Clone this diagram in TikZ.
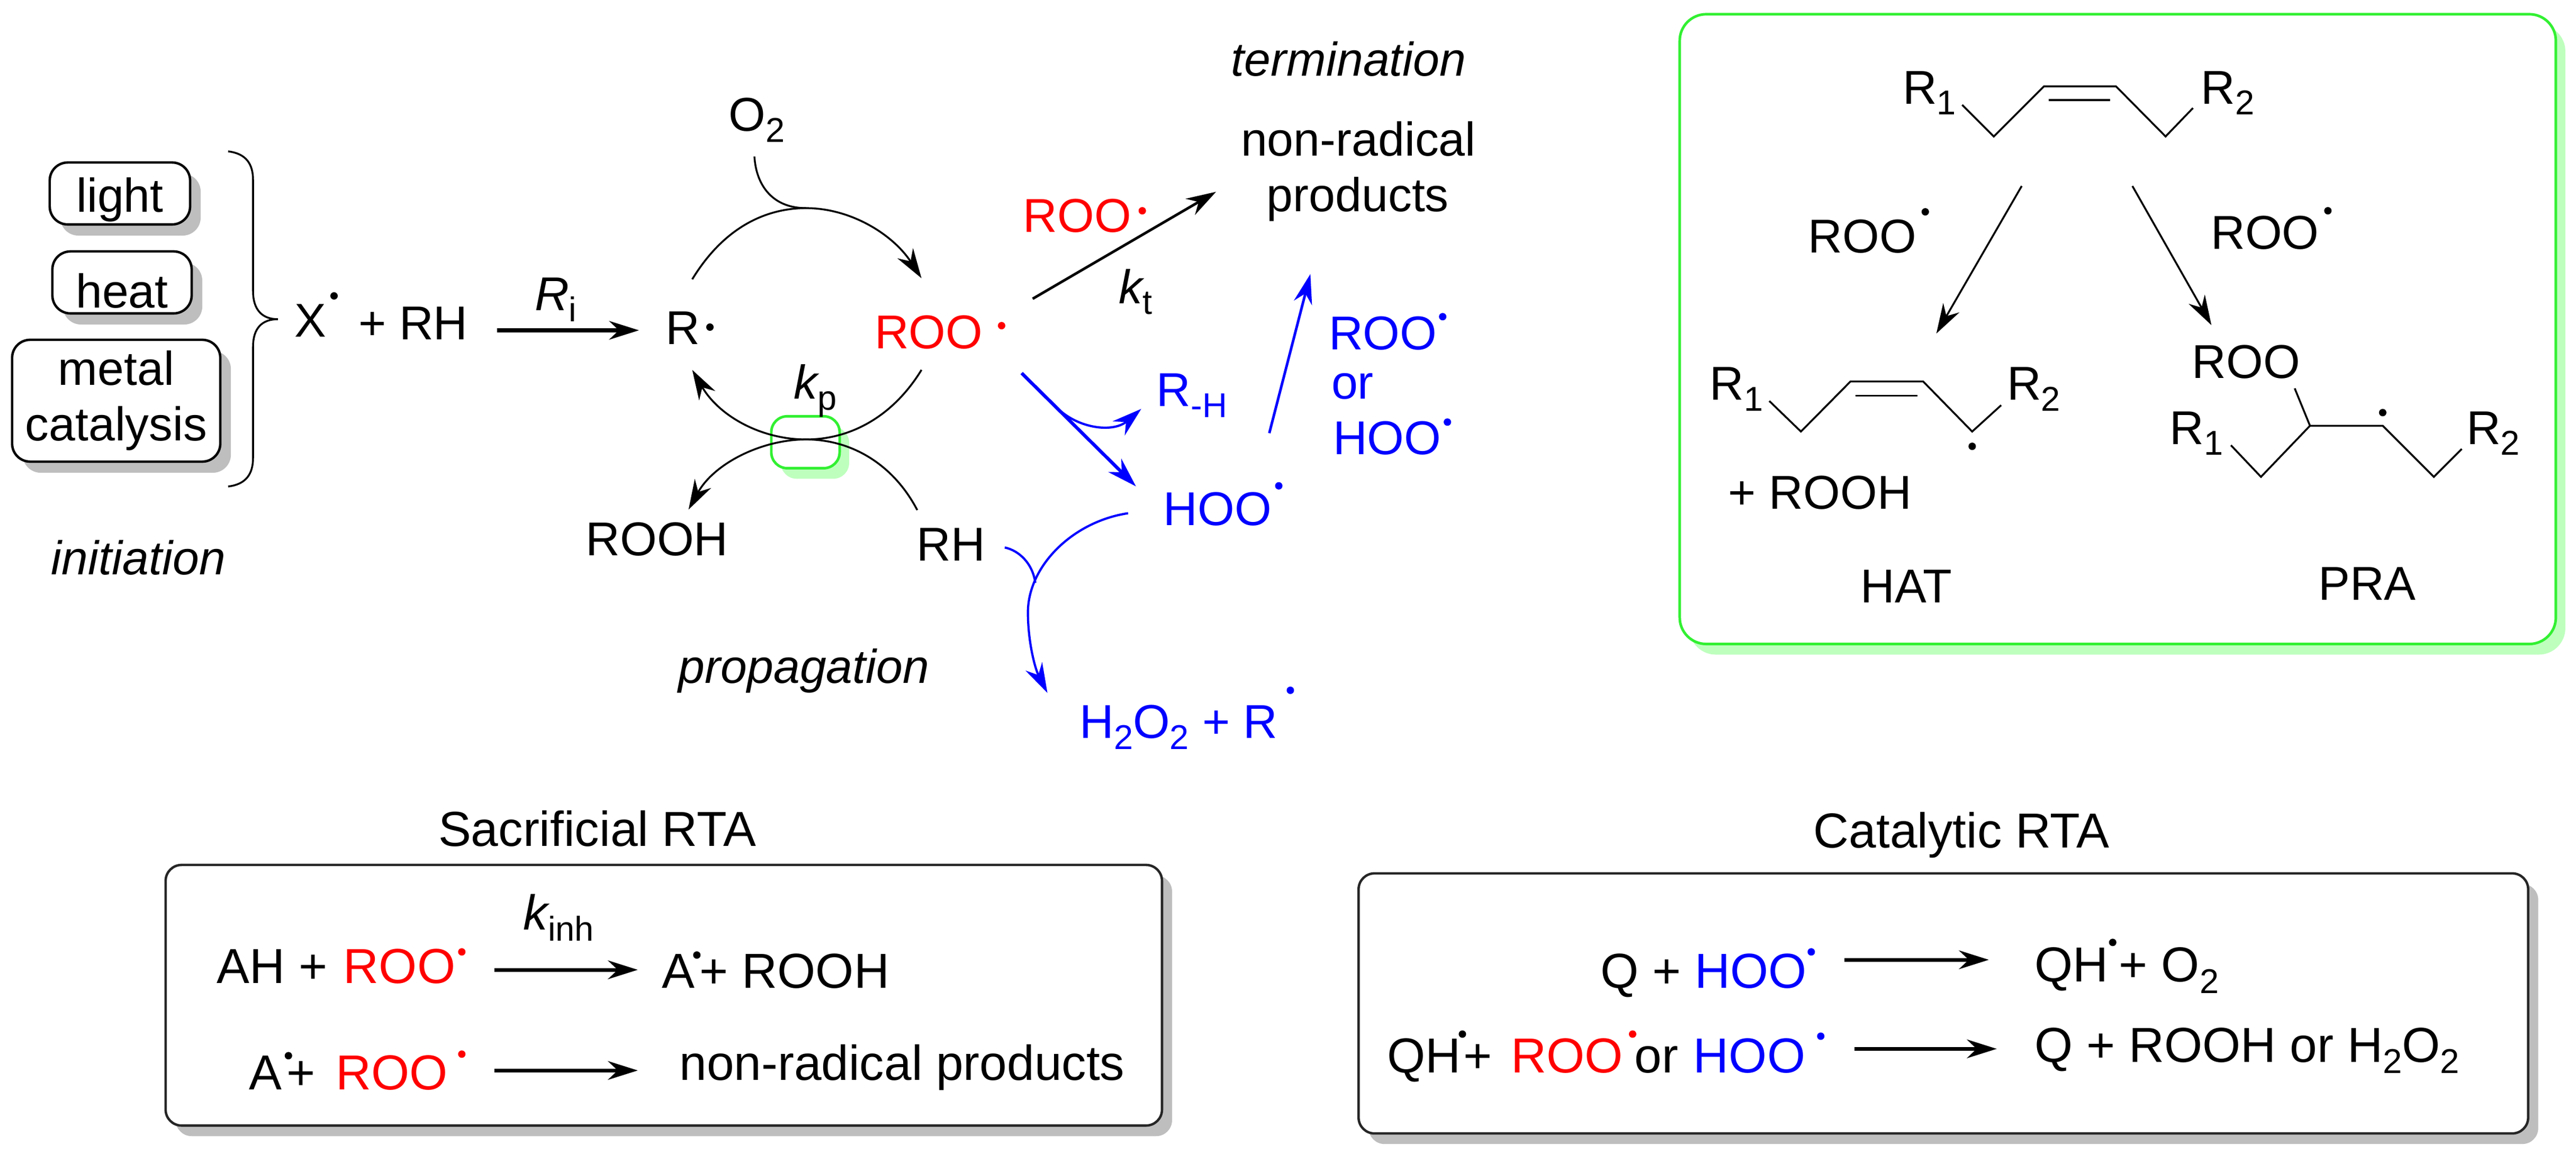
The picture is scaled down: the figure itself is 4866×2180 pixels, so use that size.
\documentclass[tikz,border=0pt]{standalone}
\usepackage{fontspec}
\setmainfont{Liberation Sans}
\usetikzlibrary{arrows.meta,shadows}
\definecolor{shadegray}{RGB}{190,190,190}
\definecolor{boxgreen}{RGB}{50,240,50}
\definecolor{shadegreen}{RGB}{190,255,190}
\definecolor{pureblue}{RGB}{0,0,255}
\definecolor{purered}{RGB}{255,0,0}
\newcommand{\sbs}[1]{\raisebox{-0.23em}{\fontsize{18.5}{18.5}\selectfont #1}}
\newcommand{\bl}[1]{\textcolor{pureblue}{#1}}
\newcommand{\rd}[1]{\textcolor{purered}{#1}}
\tikzset{
  txt/.style={inner sep=0pt,outer sep=0pt,anchor=base west,font=\fontsize{25.5}{30}\selectfont},
  ctxt/.style={txt,anchor=base},
  itxt/.style={txt,font=\fontsize{25.5}{30}\selectfont\itshape},
  btxt/.style={txt,font=\fontsize{26.4}{30}\selectfont},
  bctxt/.style={btxt,anchor=base},
  bitxt/.style={txt,font=\fontsize{26.4}{30}\selectfont\itshape},
  head/.style={-{Stealth[length=16pt,width=10pt]}},
  thinline/.style={line width=1pt},
  thinarrow/.style={head,line width=1pt},
  thickarrow/.style={head,line width=2pt},
  bluethin/.style={head,line width=1.2pt,draw=pureblue},
  bondline/.style={line width=1pt,line join=miter},
  srcbox/.style={draw=black,line width=1.3pt,fill=white,rounded corners=0.34cm,inner sep=0pt,
    outer sep=0pt,anchor=center,font=\fontsize{25.5}{30}\selectfont,
    general shadow={shadow xshift=0.2cm,shadow yshift=-0.21cm,fill=shadegray}},
  panelbox/.style={draw=black!85,line width=1.3pt,fill=white,rounded corners=0.3cm,inner sep=0pt,outer sep=0pt,
    general shadow={shadow xshift=0.19cm,shadow yshift=-0.2cm,fill=shadegray}},
  greenpanel/.style={draw=boxgreen,line width=1.4pt,fill=white,inner sep=0pt,outer sep=0pt,
    general shadow={shadow xshift=0.18cm,shadow yshift=-0.2cm,fill=shadegreen}},
  radical/.style={radius=0.07cm}
}
\begin{document}
\begin{tikzpicture}[x=0.01cm,y=-0.01cm]
\useasboundingbox (0,0) rectangle (4866,2180);

% initiation sources
\node[srcbox,minimum width=2.65cm,minimum height=1.17cm,text height=0.8cm,text depth=0.1cm] (light) at (226.5,365.5) {light};
\node[srcbox,minimum width=2.63cm,minimum height=1.17cm,text height=0.96cm,text depth=0cm] (heat) at (230.5,533.5) {heat};
\node[srcbox,minimum width=3.93cm,minimum height=2.3cm,align=center] (metal) at (219.5,757) {metal\\[-0.2pt]catalysis};
\draw[thinline] (431,286) .. controls (465,290) and (478,310) .. (478,340) -- (478,550)
  .. controls (478,585) and (495,603) .. (525,603) .. controls (495,603) and (478,620) .. (478,655)
  -- (478,865) .. controls (478,895) and (465,915) .. (431,919);
\node[itxt] (initiation) at (97,1086) {initiation};

% first line
\node[txt] (xrad) at (556,637) {X};
\fill[radical] (631,559) circle;
\node[txt] (plusrh) at (677,642) {+ RH};
\coordinate (riA) at (939,624); \coordinate (riB) at (1207,624);
\draw[thickarrow] (riA) -- (riB);
\node[itxt] (ri) at (1010,587) {R\sbs{\normalfont i}};
\node[txt] (rrad) at (1257,651) {R};
\fill[radical] (1341,618) circle;

% green highlight, under the arcs
\begin{scope}[x=0.009954cm,y=-0.009954cm,xshift=0.046cm]
\node[greenpanel,rounded corners=0.3cm,minimum width=1.29cm,minimum height=0.98cm,anchor=north west] (kpbox) at (1459,790) {};

% cycle
\node[txt] (otwo) at (1378,249) {O\sbs{2}};
\node[txt] (roomain) at (1655,662) {\rd{ROO}};
\fill[purered,radical] (1896,618) circle;
\coordinate (cycA) at (1309,530); \coordinate (cycTop) at (1525,395); \coordinate (cycB) at (1744,528);
\coordinate (cycC) at (1744,702); \coordinate (cycMid) at (1525,834); \coordinate (cycD) at (1309,702);
\coordinate (rhA) at (1736,968); \coordinate (rhB) at (1302,967);
\coordinate (oA) at (1427,297);
\draw[thinarrow] (cycA) .. controls (1370,430) and (1450,395) .. (cycTop) .. controls (1610,395) and (1690,445) .. (cycB);
\draw[thinline] (oA) .. controls (1430,350) and (1460,395) .. (cycTop);
\draw[thinarrow] (cycC) .. controls (1690,790) and (1610,834) .. (cycMid) .. controls (1440,834) and (1360,790) .. (cycD);
\draw[thinarrow] (rhA) .. controls (1690,880) and (1610,834) .. (cycMid) .. controls (1440,834) and (1350,880) .. (rhB);
\node[itxt] (kp) at (1502,757) {k\sbs{\normalfont p}};
\node[txt] (rooh) at (1107,1054) {ROOH};
\node[txt] (rh) at (1735,1064) {RH};
\node[itxt] (propagation) at (1283,1296) {propagation};

% termination
\node[itxt] (termination) at (2332,144) {termination};
\node[ctxt] (nonrad) at (2573,296) {non-radical};
\node[ctxt] (products) at (2572,401) {products};
\node[txt] (rootop) at (1937,441) {\rd{ROO}};
\fill[purered,radical] (2163,400) circle;
\coordinate (tA) at (1955,567); \coordinate (tB) at (2303,364);
\draw[head,line width=1.4pt] (tA) -- (tB);
\node[itxt] (kt) at (2119,576) {k\sbs{\normalfont t}};

% blue branch
\coordinate (bA) at (1934,708); \coordinate (bB) at (2151,923);
\draw[head,line width=1.8pt,draw=pureblue] (bA) -- (bB);
\coordinate (rhStart) at (2009,781); \coordinate (rhEnd) at (2161,776);
\draw[bluethin] (rhStart) .. controls (2050,815) and (2110,820) .. (rhEnd);
\node[txt] (rminus) at (2190,771) {\bl{R\sbs{-H}}};
\node[txt] (hoomain) at (2203,997) {\bl{HOO}};
\fill[pureblue,radical] (2422,922) circle;
\coordinate (uA) at (2404,822); \coordinate (uB) at (2482,520);
\draw[bluethin,line width=1.4pt] (uA) -- (uB);
\node[txt] (roob) at (2517,664) {\bl{ROO}};
\fill[pureblue,radical] (2733,601) circle;
\node[txt] (orb) at (2522,757) {\bl{or}};
\node[txt] (hoob) at (2525,862) {\bl{HOO}};
\fill[pureblue,radical] (2742,801) circle;
\coordinate (hA) at (2136,974); \coordinate (hMid) at (1946,1162); \coordinate (hEnd) at (1983,1315);
\coordinate (hR) at (1902,1039); \coordinate (hJ) at (1960,1106);
\draw[bluethin] (hA) .. controls (2030,990) and (1946,1075) .. (hMid) .. controls (1946,1220) and (1960,1270) .. (hEnd);
\draw[line width=1.2pt,draw=pureblue] (hR) .. controls (1930,1045) and (1955,1070) .. (hJ);
\node[txt] (htwo) at (2044,1401) {\bl{H\sbs{2}O\sbs{2} + R}};
\fill[pureblue,radical] (2444,1310) circle;
\end{scope}

% green panel
\begin{scope}[x=0.009944cm,y=-0.00995cm,xshift=0.1736cm]
\node[greenpanel,rounded corners=0.5cm,minimum width=16.54cm,minimum height=11.89cm,anchor=north west] (panel) at (3170,27) {};
\node[txt] (ra) at (3593,197) {R\sbs{1}};
\node[txt] (rb) at (4159,197) {R\sbs{2}};
\draw[bondline] (3706,199) -- (3766,259) -- (3861,164) -- (3998,164) -- (4092,259) -- (4144,205);
\draw[bondline] (3870,190) -- (3987,190);
\coordinate (pA) at (3819,353); \coordinate (pB) at (3657,633);
\coordinate (qA) at (4029,353); \coordinate (qB) at (4179,617);
\draw[thinarrow] (pA) -- (pB);
\draw[thinarrow] (qA) -- (qB);
\node[txt] (rool) at (3414,480) {ROO};
\fill[radical] (3636,402) circle;
\node[txt] (roor) at (4178,473) {ROO};
\fill[radical] (4400,400) circle;
\node[txt] (rc) at (3227,759) {R\sbs{1}};
\node[txt] (rd) at (3791,759) {R\sbs{2}};
\draw[bondline] (3340,761) -- (3400,819) -- (3494,724) -- (3632,724) -- (3725,819) -- (3780,769);
\draw[bondline] (3504,751) -- (3621,751);
\fill[radical] (3725,847) circle;
\node[txt] (prooh) at (3262,966) {+ ROOH};
\node[txt] (hat) at (3513,1144) {HAT};
\node[txt] (pra) at (4382,1139) {PRA};
\node[txt] (roopra) at (4142,718) {ROO};
\node[txt] (re) at (4100,843) {R\sbs{1}};
\node[txt] (rf) at (4663,843) {R\sbs{2}};
\draw[bondline] (4337,737) -- (4366,808);
\draw[bondline] (4216,845) -- (4273,905) -- (4366,808) -- (4504,808) -- (4601,905) -- (4654,852);
\fill[radical] (4504,783) circle;
\end{scope}

% sacrificial panel
\begin{scope}[x=0.009948cm,y=-0.00995cm,xshift=0.013cm,yshift=-0.074cm]
\node[bctxt] (sactitle) at (1132,1598) {Sacrificial RTA};
\node[panelbox,minimum width=18.81cm,minimum height=4.92cm,anchor=north west] (sacbox) at (313,1634) {};
\node[bitxt] (kinh) at (992,1757) {k\sbs{\normalfont inh}};
\node[btxt] (sacA) at (410,1859) {AH +\hspace{0.05em} \rd{ROO}};
\fill[purered,radical] (875,1799) circle;
\coordinate (sa) at (937,1833); \coordinate (sb) at (1209,1833);
\draw[thickarrow] (sa) -- (sb);
\node[btxt] (sacB) at (1255,1868) {A\hspace{0.1em}+ ROOH};
\fill[radical] (1321,1805) circle;
\node[btxt] (sacC) at (471,2060) {A\hspace{0.1em}+\hspace{0.13cm} \rd{ROO}};
\fill[radical] (546,1996) circle;
\fill[purered,radical] (875,1993) circle;
\coordinate (sc) at (937,2024); \coordinate (sd) at (1209,2024);
\draw[thickarrow] (sc) -- (sd);
\node[btxt] (sacD) at (1288,2042) {non-radical products};
\end{scope}

% catalytic panel
\begin{scope}[x=0.009944cm,y=-0.00995cm,xshift=0.14cm,yshift=-0.074cm]
\node[bctxt] (cattitle) at (3708,1601) {Catalytic RTA};
\node[panelbox,minimum width=22.08cm,minimum height=4.91cm,anchor=north west] (catbox) at (2564,1650) {};
\node[btxt] (catA) at (3023,1868) {Q + \bl{HOO}};
\fill[pureblue,radical] (3423,1799) circle;
\coordinate (ca) at (3486,1814); \coordinate (cb) at (3760,1814);
\draw[thickarrow] (ca) -- (cb);
\node[btxt] (catB) at (3847,1856) {QH\hspace{0.2cm}+ O\sbs{2}};
\fill[radical] (3995,1781) circle;
\node[btxt] (catC) at (2618,2028) {QH\hspace{0.05em}+\hspace{0.1cm} \rd{ROO}\hspace{0.22cm}or\hspace{0.03cm} \bl{HOO}};
\fill[radical] (2761,1955) circle;
\fill[purered,radical] (3084,1955) circle;
\fill[pureblue,radical] (3441,1959) circle;
\coordinate (cc) at (3505,1983); \coordinate (cd) at (3775,1983);
\draw[thickarrow] (cc) -- (cd);
\node[btxt] (catD) at (3847,2008) {Q + ROOH or H\sbs{2}O\sbs{2}};
\end{scope}
\end{tikzpicture}
\end{document}
